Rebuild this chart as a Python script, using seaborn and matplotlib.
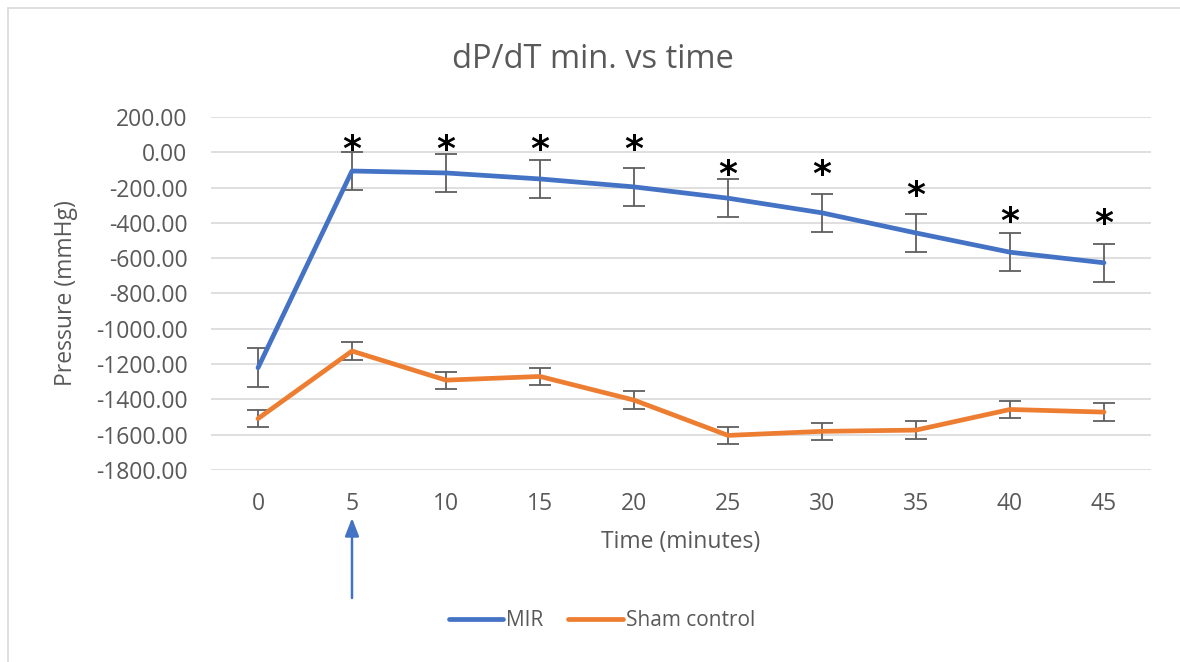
import numpy as np
import pandas as pd
import matplotlib
matplotlib.use("Agg")
import matplotlib.pyplot as plt
from matplotlib.lines import Line2D
import seaborn as sns

# ---- data ----
times = [0, 5, 10, 15, 20, 25, 30, 35, 40, 45]
mir = [-1221, -106, -117, -151, -196, -260, -343, -457, -566, -626]
mir_err = [110, 108, 108, 109, 108, 108, 108, 108, 108, 107]
sham = [-1509, -1126, -1291, -1270, -1404, -1604, -1581, -1574, -1457, -1472]
sham_err = [49, 49, 48, 49, 49, 49, 49, 49, 49, 49]
star_times = [5, 10, 15, 20, 25, 30, 35, 40, 45]
star_y = [15, 15, 15, 15, -130, -130, -250, -395, -405]
series_names = ["MIR", "Sham control"]
yticks = [200, 0, -200, -400, -600, -800, -1000, -1200, -1400, -1600, -1800]

BLUE = "#4472C4"
ORANGE = "#ED7D31"
TXT = "#595959"

sns.set_theme(style="white")
plt.rcParams["font.family"] = ["Open Sans", "DejaVu Sans"]

df = pd.DataFrame({
    "Time": times * 2,
    "Pressure": mir + sham,
    "Series": [series_names[0]] * len(times) + [series_names[1]] * len(times),
})

fig = plt.figure(figsize=(11.8, 6.62), dpi=100)
W, H = 1180, 662
ax = fig.add_axes([211 / W, 1 - 470 / H, (1151 - 211) / W, (470 - 117) / H])

# error bars
ax.errorbar(times, mir, yerr=mir_err, fmt="none", ecolor="#5F5F5F",
            elinewidth=1.3, capsize=8, capthick=1.3, zorder=2)
ax.errorbar(times, sham, yerr=sham_err, fmt="none", ecolor="#5F5F5F",
            elinewidth=1.3, capsize=8, capthick=1.3, zorder=2)

sns.lineplot(data=df, x="Time", y="Pressure", hue="Series",
             palette=[BLUE, ORANGE], linewidth=3.4, ax=ax, zorder=3,
             legend=False)
for ln in ax.lines:
    ln.set_solid_capstyle("round")

ax.set_xlim(-2.5, 47.5)
ax.set_ylim(-1800, 200)
ax.set_yticks(yticks)
ax.set_yticklabels([f"{v:.2f}" for v in yticks])
ax.set_xticks(times)
ax.set_xticklabels([str(t) for t in times])
ax.tick_params(axis="both", colors=TXT, labelsize=16.5, length=0)
ax.tick_params(axis="y", pad=17)
ax.tick_params(axis="x", pad=16)
ax.yaxis.grid(True, color="#D9D9D9", linewidth=1.2)
ax.xaxis.grid(False)
for s in ax.spines.values():
    s.set_visible(False)

ax.set_xlabel("Time (minutes)", fontsize=16.5, color=TXT, va="center")
ax.xaxis.set_label_coords(0.5, -(542 - 470) / (470 - 117))
ax.set_ylabel("Pressure (mmHg)", fontsize=16.5, color=TXT, va="center")
ax.yaxis.set_label_coords(-(211 - 66) / (1151 - 211), 0.5)

for t, y in zip(star_times, star_y):
    ax.text(t, y, "*", ha="center", va="center", fontsize=26,
            fontweight="bold", color="black", family="DejaVu Sans")

fig.text(593 / W, 1 - 60 / H, "dP/dT min. vs time", ha="center", va="center",
         fontsize=23.5, color=TXT)

# arrow marking time 5
ax.annotate("", xy=(5, 1 - 518 / H), xycoords=("data", "figure fraction"),
            xytext=(5, 1 - 598 / H), textcoords=("data", "figure fraction"),
            arrowprops=dict(arrowstyle="-|>,head_length=0.9,head_width=0.35",
                            color=BLUE, lw=1.8, shrinkA=0, shrinkB=0))

handles = [Line2D([0], [0], color=BLUE, lw=3.4, solid_capstyle="round"),
           Line2D([0], [0], color=ORANGE, lw=3.4, solid_capstyle="round")]
leg = fig.legend(handles, series_names, loc="center", ncol=2,
                 bbox_to_anchor=(602 / W, 1 - 621 / H), frameon=False,
                 fontsize=15, handlelength=2.6, handletextpad=0.15,
                 columnspacing=1.2)
for t in leg.get_texts():
    t.set_color(TXT)

# chart border (left and top visible)
fig.add_artist(Line2D([8 / W, 8 / W], [0, 1 - 8 / H], color="#D9D9D9", lw=1.2,
                      transform=fig.transFigure))
fig.add_artist(Line2D([8 / W, 1], [1 - 8 / H, 1 - 8 / H], color="#D9D9D9", lw=1.2,
                      transform=fig.transFigure))

fig.savefig("out.png", dpi=100, facecolor="white")
